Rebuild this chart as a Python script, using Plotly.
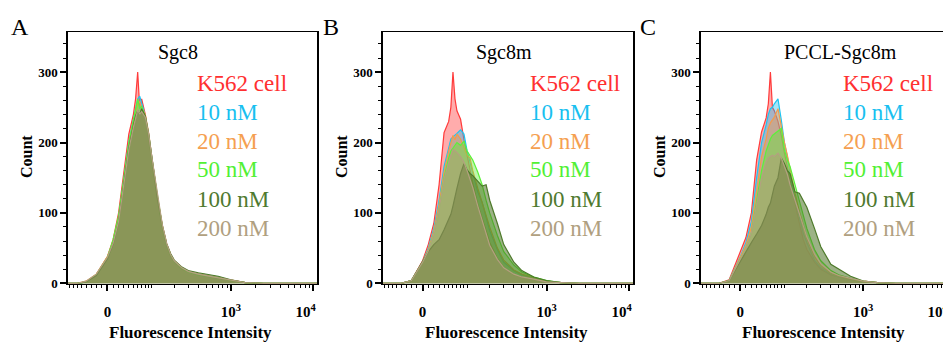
import numpy as np
import plotly.graph_objects as go

W, H = 951, 343
OFF = 8  # page body margin of the browser
FW, FH = W - OFF, H - OFF

# Fluorescence intensity bins (channel centres)
FLUOR = [-100, -60, -40, -20, 0, 10, 20, 30, 40, 50, 55, 60, 65, 70, 80, 90, 100, 110,
         120, 140, 160, 180, 200, 250, 300, 400, 500, 700, 1000, 1500, 2500, 12000]

SERIES = ["K562 cell", "10 nM", "20 nM", "50 nM", "100 nM", "200 nM"]
PANEL_TITLES = ["Sgc8", "Sgc8m", "PCCL-Sgc8m"]
PANEL_LETTERS = ["A", "B", "C"]

# Panel A (Sgc8)
A_K562 = [0, 0, 2, 12, 38, 62, 100, 160, 212, 240, 262, 300, 250, 262, 240, 205, 175, 150, 118, 78, 52, 38, 30, 20, 16, 12, 10, 8, 4, 1, 0, 0]
A_10 = [0, 0, 2, 11, 36, 58, 92, 150, 200, 232, 248, 262, 266, 255, 238, 212, 178, 150, 120, 80, 54, 40, 31, 21, 16, 12, 10, 8, 4, 1, 0, 0]
A_20 = [0, 0, 3, 13, 38, 58, 90, 145, 195, 228, 242, 255, 258, 250, 240, 214, 180, 152, 122, 82, 56, 41, 32, 22, 17, 13, 11, 8, 4, 1, 0, 0]
A_50 = [0, 0, 2, 12, 37, 62, 96, 152, 200, 232, 250, 262, 248, 252, 236, 210, 177, 150, 120, 80, 54, 40, 31, 21, 16, 12, 10, 8, 4, 1, 0, 0]
A_100 = [0, 0, 2, 11, 35, 56, 88, 142, 192, 225, 238, 245, 240, 248, 238, 212, 180, 152, 122, 82, 56, 42, 33, 23, 18, 15, 13, 10, 5, 1, 0, 0]
A_200 = [0, 0, 3, 13, 37, 57, 88, 142, 190, 222, 236, 246, 240, 244, 236, 212, 180, 153, 123, 83, 56, 41, 32, 22, 17, 13, 11, 8, 4, 1, 0, 0]

# Panel B (Sgc8m)
B_K562 = [0, 0, 0, 4, 32, 55, 85, 140, 214, 230, 250, 300, 262, 245, 233, 204, 182, 160, 142, 112, 92, 72, 58, 35, 22, 12, 9, 6, 3, 1, 0, 0]
B_10 = [0, 0, 0, 4, 30, 50, 78, 118, 166, 192, 205, 208, 210, 213, 218, 212, 188, 172, 160, 130, 115, 95, 75, 48, 30, 18, 12, 8, 3, 1, 0, 0]
B_20 = [0, 0, 0, 4, 30, 48, 74, 112, 158, 188, 200, 210, 204, 212, 205, 192, 182, 178, 160, 135, 115, 96, 80, 50, 33, 19, 13, 8, 3, 1, 0, 0]
B_50 = [0, 0, 0, 4, 30, 46, 70, 105, 150, 178, 188, 192, 196, 200, 196, 202, 188, 182, 175, 158, 140, 118, 100, 68, 45, 26, 16, 9, 4, 1, 0, 0]
B_100 = [0, 0, 0, 4, 32, 45, 55, 62, 76, 90, 98, 110, 125, 135, 156, 170, 161, 156, 153, 145, 138, 140, 118, 85, 55, 30, 18, 9, 4, 1, 0, 0]
B_200 = [0, 0, 0, 4, 30, 46, 70, 105, 148, 172, 182, 190, 188, 186, 180, 172, 160, 148, 136, 110, 88, 68, 54, 34, 22, 13, 9, 6, 2, 1, 0, 0]

# Panel C (PCCL-Sgc8m)
C_K562 = [0, 0, 0, 5, 45, 65, 100, 175, 215, 235, 255, 300, 250, 245, 230, 210, 185, 165, 148, 115, 85, 62, 48, 30, 20, 12, 9, 6, 3, 1, 0, 0]
C_10 = [0, 0, 0, 4, 38, 58, 88, 150, 200, 225, 240, 248, 250, 255, 262, 232, 200, 180, 156, 120, 95, 71, 58, 33, 22, 13, 9, 6, 2, 1, 0, 0]
C_20 = [0, 0, 0, 4, 36, 54, 80, 135, 180, 205, 220, 228, 232, 236, 248, 222, 200, 182, 162, 128, 102, 80, 64, 38, 25, 14, 10, 6, 2, 1, 0, 0]
C_50 = [0, 0, 0, 4, 34, 50, 72, 115, 160, 188, 198, 205, 210, 212, 216, 220, 190, 175, 166, 140, 118, 95, 78, 48, 32, 18, 12, 7, 3, 1, 0, 0]
C_100 = [0, 0, 0, 4, 32, 45, 58, 70, 82, 98, 108, 114, 125, 138, 150, 178, 170, 160, 156, 130, 128, 118, 108, 78, 52, 27, 20, 10, 3, 1, 0, 0]
C_200 = [0, 0, 0, 4, 34, 50, 72, 112, 150, 172, 178, 180, 182, 180, 185, 178, 165, 155, 140, 118, 98, 80, 66, 42, 28, 16, 11, 7, 3, 1, 0, 0]

PANELS = [
    [A_K562, A_10, A_20, A_50, A_100, A_200],
    [B_K562, B_10, B_20, B_50, B_100, B_200],
    [C_K562, C_10, C_20, C_50, C_100, C_200],
]

LINE_COLORS = ["#ff3b3b", "#1ec4f2", "#f59a4a", "#5cf03a", "#4d7a2a", "#b4a080"]
FILL_COLORS = ["rgba(255,70,70,0.45)", "rgba(30,190,240,0.40)", "rgba(245,150,70,0.40)",
               "rgba(90,235,50,0.40)", "rgba(75,115,35,0.55)", "rgba(180,150,120,0.40)"]
TEXT_COLORS = ["#ff3030", "#18c0f0", "#f5a050", "#52f034", "#4f7a2f", "#b0a080"]

# logicle-like display transform
def disp(v):
    return np.arcsinh(np.asarray(v, dtype=float) / 63.0) / np.log(10)

MAJOR_X = [0, 1000, 10000]
MAJOR_X_TEXT = ["0", "10<sup>3</sup>",
                "10<sup>4</sup><span style='color:rgba(255,255,255,0)'>00</span>"]
MINOR_X = ([-v for v in range(10, 90, 10)] + list(range(10, 100, 10)) + list(range(100, 1000, 100))
           + list(range(2000, 11000, 1000)))

X_DOMAINS_PX = [(68, 317), (383, 633), (701, 949)]
PLOT_TOP, PLOT_BOTTOM = 32, 284
SERIF = "Liberation Serif"

def px_x(x):
    return (x - OFF) / FW

def px_y(y):
    return (H - y) / FH

fig = go.Figure()
xs = disp(FLUOR)
for p, series_list in enumerate(PANELS):
    sfx = "" if p == 0 else str(p + 1)
    for i, vals in enumerate(series_list):
        fig.add_trace(go.Scatter(
            x=xs, y=vals, mode="lines", fill="tozeroy",
            line=dict(color=LINE_COLORS[i], width=1.2),
            fillcolor=FILL_COLORS[i], name=SERIES[i], showlegend=False,
            xaxis="x" + sfx, yaxis="y" + sfx, hoverinfo="skip"))

    x0, x1 = X_DOMAINS_PX[p]
    xax = dict(
        domain=[px_x(x0), min(px_x(x1), 1.0)], range=[-0.48, 2.55], anchor="y" + sfx, automargin=False,
        showline=True, linecolor="black", linewidth=1, mirror=True,
        showgrid=False, zeroline=False, layer="below traces",
        tickmode="array", tickvals=list(disp(MAJOR_X)), ticktext=MAJOR_X_TEXT,
        ticks="outside", ticklen=6, tickwidth=1.5, tickcolor="black",
        tickfont=dict(family=SERIF, size=15, color="black", weight="bold"), ticklabelstandoff=8,
        ticklabeloverflow="allow",
        minor=dict(tickmode="array", tickvals=list(disp(MINOR_X)), ticks="outside",
                   ticklen=3, tickwidth=1, tickcolor="black", showgrid=False),
    )
    yax = dict(
        domain=[px_y(PLOT_BOTTOM), px_y(PLOT_TOP)], range=[-1, 357], anchor="x" + sfx,
        automargin=False,
        showline=True, linecolor="black", linewidth=1.5, mirror=True,
        showgrid=False, zeroline=False,
        tickmode="array", tickvals=[0, 100, 200, 300],
        ticks="outside", ticklen=6, tickwidth=2, tickcolor="black",
        tickfont=dict(family=SERIF, size=13, color="black", weight="bold"),
        ticklabeloverflow="allow",
        minor=dict(dtick=20, tick0=0, ticks="outside", ticklen=3, tickwidth=1,
                   tickcolor="black", showgrid=False),
    )
    fig.update_layout(**{"xaxis" + sfx: xax, "yaxis" + sfx: yax})

ann = []
LETTER_POS = [(20, 27), (331, 27), (648, 27)]
TITLE_X = [178, 504, 840]
LEGEND_X = [195, 528, 841]
LEGEND_Y = [83, 112, 141, 169, 199, 228]
for p in range(3):
    x0, x1 = X_DOMAINS_PX[p]
    ann.append(dict(x=px_x(LETTER_POS[p][0]), y=px_y(LETTER_POS[p][1]), text=PANEL_LETTERS[p],
                    font=dict(family=SERIF, size=24, color="black")))
    ann.append(dict(x=px_x(TITLE_X[p]), y=px_y(52), text=PANEL_TITLES[p],
                    font=dict(family=SERIF, size=20, color="black")))
    for i, s in enumerate(SERIES):
        ann.append(dict(x=px_x(LEGEND_X[p]), y=px_y(LEGEND_Y[i]), text=s, xanchor="left",
                        font=dict(family=SERIF, size=23, color=TEXT_COLORS[i])))
    ann.append(dict(x=px_x(x0 - 42), y=px_y(157), text="Count", textangle=-90,
                    font=dict(family=SERIF, size=16, color="black", weight="bold")))
    ann.append(dict(x=px_x((x0 + x1) / 2 - 2), y=px_y(332), text="Fluorescence Intensity",
                    font=dict(family=SERIF, size=17, color="black", weight="bold")))
for a in ann:
    a.update(xref="paper", yref="paper", showarrow=False)
    a.setdefault("xanchor", "center")
    a.setdefault("yanchor", "middle")

fig.update_layout(width=FW, height=FH, margin=dict(l=0, r=0, t=0, b=0, autoexpand=False),
                  paper_bgcolor="white", plot_bgcolor="white", annotations=ann,
                  showlegend=False)
fig.write_html("out.html")
